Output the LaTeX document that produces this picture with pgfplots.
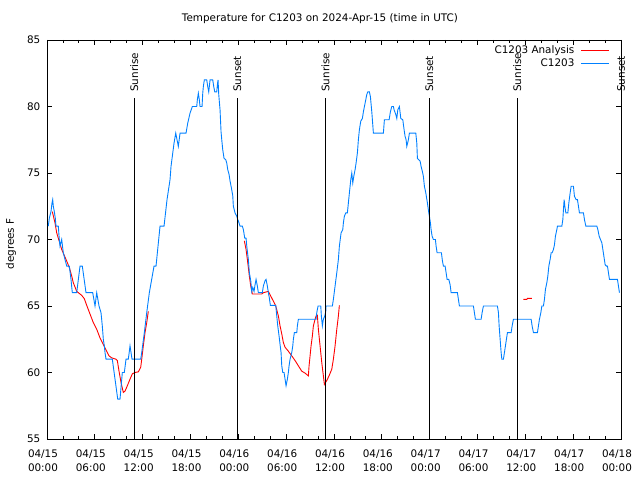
\documentclass[border=0pt]{standalone}
\usepackage{pgfplots}
\usepackage{pgfplotstable}
\pgfplotsset{compat=1.18}
\usepackage{fontspec}
\setmainfont{DejaVu Sans}
\definecolor{obsblue}{RGB}{0,128,255}
\newcommand\gf{\fontsize{10.4bp}{14bp}\selectfont}

\pgfplotstableread{
h t
0.163 71
0.289 71.6
0.502 72.1
0.627 72.75
0.715 73
0.790 72.5
0.916 72.1
1.041 71.6
1.129 71
1.418 71
1.543 70
1.631 69.5
1.844 70
2.045 69
2.258 68.5
2.472 68
2.798 68
3.011 67
3.174 66
3.726 66
4.141 68
4.429 68
4.893 66
5.734 66
6.023 65
6.236 66
6.524 65
6.775 64.5
6.938 63.5
7.064 62.5
7.190 62
7.277 61.5
7.403 61
8.193 61
8.871 58
9.159 58
9.448 60
9.699 60
9.912 61
10.201 61
10.414 62
10.665 61
11.757 61
11.882 61.5
12.209 63
12.510 64.5
12.836 66
13.425 68
13.676 68
13.927 69.5
14.178 71
14.680 71
15.056 73
15.433 74.5
15.558 75.5
15.935 77.25
16.148 78
16.474 77
16.688 78
17.440 78
17.654 78.75
17.942 79.5
18.231 80
18.783 80
18.858 80.5
18.984 81
19.109 80.5
19.197 80
19.448 80
19.536 81
19.611 81.5
19.736 82
20.038 82
20.163 81.5
20.288 81.1
20.364 81.5
20.452 82
20.790 82
20.916 81.5
21.041 81.1
21.292 81.1
21.367 81.6
21.455 82
21.543 80.9
21.706 79.75
21.832 78.1
21.920 77.5
22.045 76.75
22.208 76.1
22.421 76
22.547 75.75
22.672 75.25
22.836 74.9
22.961 74.4
23.124 73.9
23.300 73.3
23.375 72.5
23.588 72
23.802 71.75
23.927 71.5
24.003 71.4
24.216 71
24.504 71
24.630 70.75
24.806 70.1
24.969 70.1
25.057 69.5
25.257 68.5
25.383 67.5
25.558 66.9
25.684 66.1
25.809 66.4
25.972 66.1
26.098 66.6
26.223 67
26.386 66.5
26.512 66
27.014 66
27.139 66.5
27.352 66.9
27.478 67
27.641 66.5
27.767 66
27.892 65.6
28.017 65.05
28.695 65.05
28.820 64.25
28.946 63.5
29.109 62.75
29.235 62.1
29.360 61.5
29.448 60.5
29.573 60
29.736 60
29.862 59.5
29.987 59
30.150 59.5
30.276 60
30.364 60.5
30.489 61
30.702 61.5
30.828 62
30.903 62.5
31.029 63
31.330 63
31.405 63.5
31.531 64
33.751 64
33.839 64.5
34.002 65
34.341 65
34.416 64.25
34.542 63.5
34.667 64
34.843 64.25
34.968 64.6
35.006 65
35.797 65
35.922 65.5
36.135 66.5
36.349 67.5
36.550 68.5
36.675 69.5
36.888 70.5
37.102 70.75
37.177 71.25
37.302 71.75
37.478 72
37.679 72
37.804 72.75
37.930 73.5
38.105 74.5
38.231 75
38.356 74.25
38.482 74.75
38.645 75.25
38.770 75.75
38.933 76.5
39.059 77.5
39.184 78.25
39.360 78.9
39.561 79.1
39.686 79.6
39.900 80.25
40.113 80.9
40.238 81.1
40.439 81.1
40.565 80.75
40.741 79.6
40.941 78
42.196 78
42.321 79
42.911 79
43.074 79.6
43.249 80
43.450 80
43.538 79.75
43.751 79.4
43.877 79.1
44.002 79.75
44.203 80
44.379 79.1
44.630 79
44.793 78.25
44.918 77.75
45.044 77.5
45.132 77
45.333 77.5
45.458 78
46.261 78
46.386 77.25
46.462 76.1
46.800 75.9
46.926 75.5
47.089 75.1
47.214 74.75
47.340 74
47.516 73.5
47.716 72.75
47.892 72
47.967 71.75
48.093 71.25
48.180 70.75
48.306 70.25
48.469 70
48.720 70
48.808 69.5
48.933 69
49.473 69
49.598 68.4
49.724 68
49.937 68
50.063 67.5
50.188 67
50.401 67
50.564 66.6
50.690 66
51.480 66
51.606 65.5
51.731 65
53.488 65
53.613 64.5
53.739 64
54.455 64
54.580 64.5
54.743 65
56.500 65
56.626 64.5
56.714 63.5
56.839 62.5
56.965 61.5
57.053 61
57.253 61
57.379 61.5
57.504 62
57.630 62.5
57.755 63
58.218 63
58.344 63.5
58.507 64
60.728 64
60.853 63.5
61.016 63
61.518 63
61.644 63.5
61.769 64
61.945 64.5
62.070 65
62.271 65
62.397 65.5
62.522 66.25
62.698 66.75
62.823 67.25
62.949 68
63.112 68.5
63.237 69
63.363 69
63.526 69.25
63.652 69.6
63.777 70.25
63.953 70.75
64.028 71
64.580 71
64.705 71.5
64.781 72.25
64.868 73
64.956 72.5
65.082 72
65.333 72
65.458 72.75
65.621 73.5
65.747 74
66.035 74
66.161 73.25
66.374 73
66.537 73
66.663 72.5
66.788 72
67.290 72
67.416 71.5
67.592 71
68.972 71
69.097 70.75
69.260 70.25
69.424 70
69.599 69.75
69.725 69.25
69.850 68.75
70.013 68.1
70.176 68
70.302 68
70.427 67.5
70.552 67
71.556 67
71.681 66.5
71.807 66
}\obs

\pgfplotstableread{
h t
0.665 72.1
1.004 71.25
1.217 70.5
1.844 69.25
2.384 68.5
2.798 67.9
3.099 67.25
3.300 66.75
3.726 66.1
4.354 65.8
4.680 65.55
4.981 65.05
5.395 64.4
5.809 63.75
6.236 63.25
6.650 62.6
7.064 62.1
7.491 61.6
7.779 61.25
8.118 61.1
8.658 61.0
8.821 60.9
9.034 60.1
9.285 59.25
9.573 58.5
9.787 58.6
10.075 59.0
10.414 59.5
10.703 59.9
11.041 60
11.455 60.05
11.757 60.4
11.882 61
12.083 62
12.296 63
12.510 63.75
12.710 64.6
nan nan
24.756 69.9
24.969 69.25
25.132 68.5
25.383 67.25
25.558 66.5
25.759 65.9
26.938 65.9
27.139 66.0
27.767 66.1
28.193 65.6
28.695 65
29.021 64.25
29.235 63.5
29.448 62.9
29.649 62.25
29.862 61.9
30.276 61.6
30.702 61.25
31.116 60.9
31.531 60.5
31.957 60.1
32.371 59.95
32.785 59.75
32.873 60.5
32.999 61.25
33.124 62
33.287 62.75
33.413 63.5
33.626 64
33.751 64.25
33.914 64.3
34.040 63.25
34.253 62
34.466 60.75
34.667 59.75
34.793 59.1
35.094 59.4
35.382 59.75
35.721 60.25
35.922 61
36.135 62
36.349 63.25
36.550 64.25
36.675 65.05
nan nan
59.762 65.5
60.188 65.5
60.263 65.57
60.815 65.57
}\ana

\begin{document}
\gf
\begin{tikzpicture}
\begin{axis}[
  name=ax,
  scale only axis,
  width=574bp, height=399bp,
  xmin=0, xmax=72, ymin=55, ymax=85,
  clip=false,
  unbounded coords=jump,
  axis line style={line width=0.8bp},
  every tick/.style={black, line width=0.8bp},
  major tick length=5bp,
  minor tick length=3bp,
  tick align=inside,
  xtick={0,6,...,72},
  minor x tick num=2,
  ytick={55,60,...,85},
  xticklabels={{04/15\\00:00},{04/15\\06:00},{04/15\\12:00},{04/15\\18:00},{04/16\\00:00},{04/16\\06:00},{04/16\\12:00},{04/16\\18:00},{04/17\\00:00},{04/17\\06:00},{04/17\\12:00},{04/17\\18:00},{04/18\\00:00}},
  xticklabel style={font=\gf, align=center, xshift=-4bp, yshift=-7bp},
  yticklabel style={font=\gf, xshift=-3bp},
  /pgf/number format/assume math mode=true,
  ylabel={degrees F},
  every axis y label/.style={at={(rel axis cs:0,0.489)}, xshift=-36bp, rotate=90, anchor=center, font=\gf},
  legend plot pos=right,
  legend cell align=right,
  legend style={at={(rel axis cs:1,1)}, anchor=north east, xshift=-11bp, yshift=-4bp,
    draw=none, fill=none, inner sep=0pt, row sep=0.5bp, column sep=5bp,
    nodes={inner sep=1.5bp, font=\gf}},
  legend image code/.code={\draw[#1] (0bp,0bp) -- (28bp,0bp);},
]
\addplot[red, line width=0.9bp] table[x=h, y=t] {\ana};
\addlegendentry{C1203 Analysis}
\addplot[obsblue, line width=0.9bp] table[x=h, y=t] {\obs};
\addlegendentry{C1203}

\draw[black, line width=0.9bp] (axis cs:10.94,55) -- (axis cs:10.94,80.65);
\node[rotate=90, anchor=west, inner sep=0pt, font=\gf] at (axis cs:10.94,81.1) {Sunrise};
\draw[black, line width=0.9bp] (axis cs:23.88,55) -- (axis cs:23.88,80.65);
\node[rotate=90, anchor=west, inner sep=0pt, font=\gf] at (axis cs:23.88,81.1) {Sunset};
\draw[black, line width=0.9bp] (axis cs:34.92,55) -- (axis cs:34.92,80.65);
\node[rotate=90, anchor=west, inner sep=0pt, font=\gf] at (axis cs:34.92,81.1) {Sunrise};
\draw[black, line width=0.9bp] (axis cs:47.97,55) -- (axis cs:47.97,80.65);
\node[rotate=90, anchor=west, inner sep=0pt, font=\gf] at (axis cs:47.97,81.1) {Sunset};
\draw[black, line width=0.9bp] (axis cs:59.0,55) -- (axis cs:59.0,80.65);
\node[rotate=90, anchor=west, inner sep=0pt, font=\gf] at (axis cs:59.0,81.1) {Sunrise};
\node[rotate=90, anchor=west, inner sep=0pt, font=\gf] at (axis cs:72,81.1) {Sunset};

\node[font=\gf] at (rel axis cs:0.5,1) [yshift=21bp, xshift=-14bp] {Temperature for C1203 on 2024-Apr-15 (time in UTC)};
\end{axis}
\pgfresetboundingbox
\path[use as bounding box] (ax.south west) ++(-47bp,-41bp) rectangle ++(640bp,480bp);
\end{tikzpicture}
\end{document}
